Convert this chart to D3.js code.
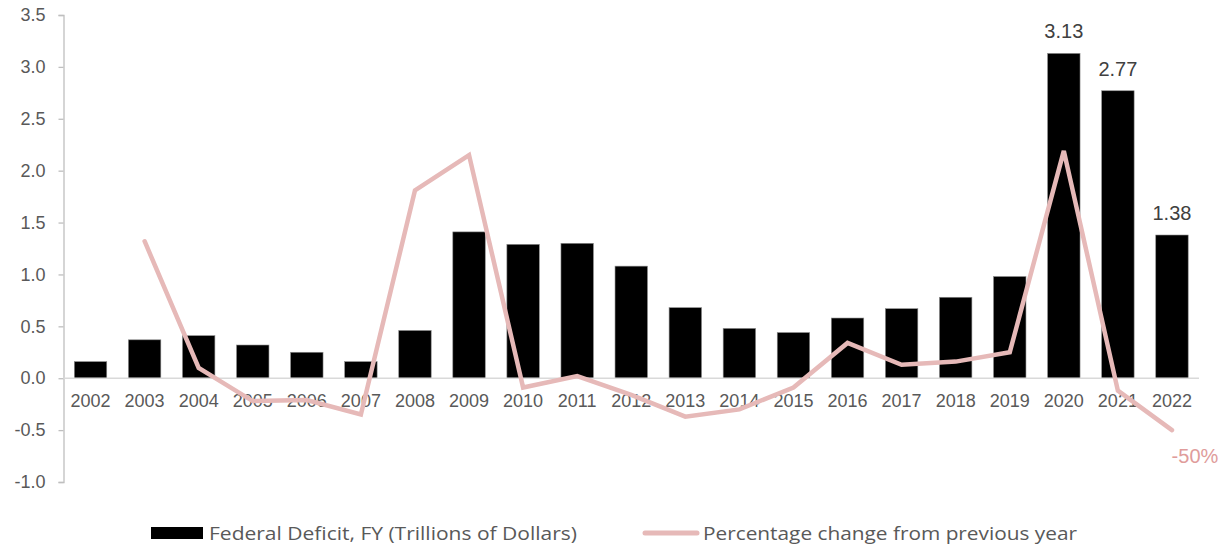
<!DOCTYPE html>
<html>
<head>
<meta charset="utf-8">
<script src="https://cdn.jsdelivr.net/npm/d3@7"></script>
<style>
  body { margin: 0; background: #fff; }
  svg { display: block; }
</style>
</head>
<body>
<div id="chart"></div>
<script>
// datos
const years = ["2002","2003","2004","2005","2006","2007","2008","2009","2010","2011","2012",
               "2013","2014","2015","2016","2017","2018","2019","2020","2021","2022"];
const deficit = [0.16, 0.37, 0.41, 0.32, 0.25, 0.16, 0.46, 1.41, 1.29, 1.30, 1.08,
                 0.68, 0.48, 0.44, 0.58, 0.67, 0.78, 0.98, 3.13, 2.77, 1.38];
// cambio porcentual (2002 no tiene valor)
const pctChange = [null, 1.32, 0.10, -0.22, -0.21, -0.35, 1.81, 2.15, -0.09, 0.02, -0.16,
                   -0.37, -0.30, -0.09, 0.34, 0.13, 0.16, 0.25, 2.19, -0.12, -0.50];
const yTicks = [-1.0, -0.5, 0.0, 0.5, 1.0, 1.5, 2.0, 2.5, 3.0, 3.5];
const labeledYears = ["2020", "2021", "2022"];
const seriesNames = ["Federal Deficit, FY (Trillions of Dollars)", "Percentage change from previous year"];

const svgWidth = 1229, svgHeight = 546;
const plotLeft = 63.5, plotRight = 1199, plotTop = 15, plotBottom = 482;
const lineColor = "#e6b9b8";
const textColor = "#595959";

const svg = d3.select("#chart").append("svg")
  .attr("width", svgWidth)
  .attr("height", svgHeight)
  .style("font-family", "'Liberation Sans', Arial, sans-serif");

const x = d3.scaleBand()
  .domain(years)
  .range([plotLeft, plotRight])
  .paddingInner(0.4)
  .paddingOuter(0.2);

const y = d3.scaleLinear()
  .domain([-1, 3.5])
  .range([plotBottom, plotTop]);

// eje y
const yAxis = svg.append("g")
  .attr("transform", `translate(${plotLeft},0)`)
  .call(d3.axisLeft(y).tickValues(yTicks).tickSize(5).tickPadding(13).tickFormat(d => d.toFixed(1)));
yAxis.select(".domain").attr("stroke", "#bfbfbf").attr("stroke-width", 1.3);
yAxis.selectAll(".tick line").attr("stroke", "#bfbfbf").attr("stroke-width", 1.3);
yAxis.selectAll(".tick text")
  .attr("fill", textColor)
  .style("font-size", "18px");

// barras
svg.selectAll(".bar")
  .data(years.map((yr, i) => ({ yr, v: deficit[i] })))
  .enter().append("rect")
  .attr("class", "bar")
  .attr("x", d => x(d.yr))
  .attr("y", d => y(d.v))
  .attr("width", x.bandwidth())
  .attr("height", d => y(0) - y(d.v))
  .attr("fill", "#000")
  .attr("stroke", "#8c8c8c")
  .attr("stroke-width", 0.6);

// linea del cero
svg.append("line")
  .attr("x1", plotLeft).attr("x2", plotRight)
  .attr("y1", y(0)).attr("y2", y(0))
  .attr("stroke", "#d9d9d9")
  .attr("stroke-width", 1.5);

// etiquetas de los anios
svg.selectAll(".year")
  .data(years)
  .enter().append("text")
  .attr("class", "year")
  .attr("x", d => x(d) + x.bandwidth() / 2)
  .attr("y", y(0) + 29)
  .attr("text-anchor", "middle")
  .attr("fill", textColor)
  .style("font-size", "18px")
  .text(d => d);

// linea de cambio porcentual
const pts = years.map((yr, i) => ({ yr, v: pctChange[i] })).filter(d => d.v !== null);
const line = d3.line()
  .x(d => x(d.yr) + x.bandwidth() / 2)
  .y(d => y(d.v));
svg.append("path")
  .datum(pts)
  .attr("d", line)
  .attr("fill", "none")
  .attr("stroke", lineColor)
  .attr("stroke-width", 4.5)
  .attr("stroke-linecap", "round")
  .attr("stroke-linejoin", "miter");

// etiquetas de valores
svg.selectAll(".vlabel")
  .data(labeledYears)
  .enter().append("text")
  .attr("class", "vlabel")
  .attr("x", d => x(d) + x.bandwidth() / 2)
  .attr("y", d => y(deficit[years.indexOf(d)]) - 15)
  .attr("text-anchor", "middle")
  .attr("fill", "#404040")
  .style("font-size", "20px")
  .text(d => deficit[years.indexOf(d)].toFixed(2));

const last = pts[pts.length - 1];
svg.append("text")
  .attr("x", x(last.yr) + x.bandwidth() / 2 + 23)
  .attr("y", y(last.v) + 33)
  .attr("text-anchor", "middle")
  .attr("fill", "#e09c9b")
  .style("font-size", "20px")
  .text(Math.round(last.v * 100) + "%");

// leyenda
const legend = svg.append("g").style("font-family", "'Open Sans', sans-serif");
legend.append("rect")
  .attr("x", 151).attr("y", 527)
  .attr("width", 52).attr("height", 12)
  .attr("fill", "#000");
legend.append("text")
  .attr("x", 209).attr("y", 540)
  .attr("fill", textColor)
  .style("font-size", "18px")
  .attr("textLength", 368)
  .attr("lengthAdjust", "spacingAndGlyphs")
  .text(seriesNames[0]);
legend.append("line")
  .attr("x1", 645).attr("x2", 697)
  .attr("y1", 533).attr("y2", 533)
  .attr("stroke", lineColor)
  .attr("stroke-width", 5)
  .attr("stroke-linecap", "round");
legend.append("text")
  .attr("x", 703).attr("y", 540)
  .attr("fill", textColor)
  .style("font-size", "18px")
  .attr("textLength", 374)
  .attr("lengthAdjust", "spacingAndGlyphs")
  .text(seriesNames[1]);
</script>
</body>
</html>
